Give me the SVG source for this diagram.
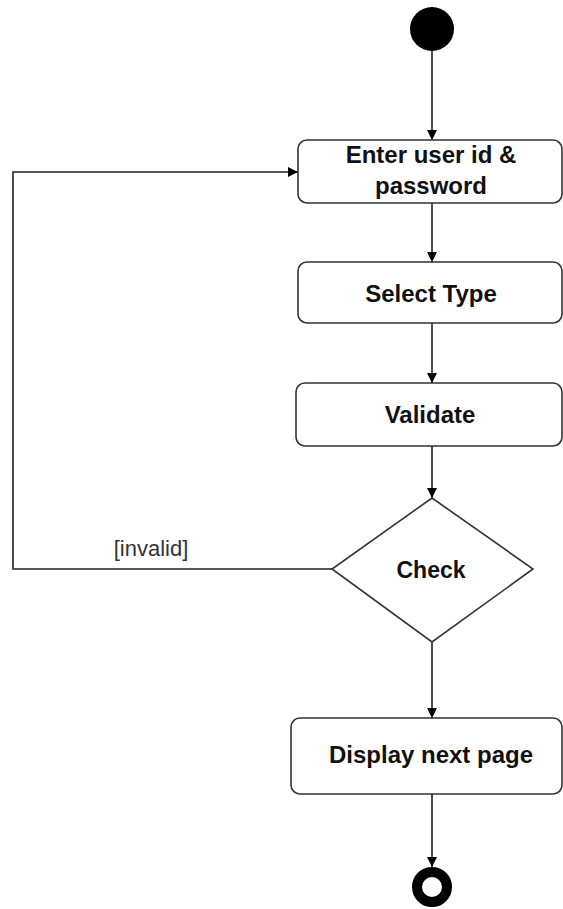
<svg xmlns="http://www.w3.org/2000/svg" width="563" height="909" viewBox="0 0 563 909">
<defs>
<marker id="arr" viewBox="0 0 10 10" refX="10" refY="5" markerWidth="10" markerHeight="10" markerUnits="userSpaceOnUse" orient="auto">
<path d="M0,0 L10,5 L0,10 Z" fill="#000"/>
</marker>
</defs>
<style>
.box{fill:#fff;stroke:#333;stroke-width:1.6}
.lbl{font-family:"Liberation Sans",Arial,sans-serif;font-weight:bold;font-size:24px;fill:#111;text-anchor:middle}
.edge{fill:none;stroke:#222;stroke-width:1.6}
.guard{font-family:"Liberation Sans",Arial,sans-serif;font-size:22px;fill:#333;text-anchor:middle}
</style>
<rect width="563" height="909" fill="#fff"/>
<g id="connectors">
<line class="edge" x1="432" y1="51" x2="432" y2="140" marker-end="url(#arr)"/>
<line class="edge" x1="432" y1="203" x2="432" y2="262" marker-end="url(#arr)"/>
<line class="edge" x1="432" y1="323" x2="432" y2="383" marker-end="url(#arr)"/>
<line class="edge" x1="432" y1="446" x2="432" y2="498" marker-end="url(#arr)"/>
<polyline class="edge" points="332,569 13,569 13,172 298,172" marker-end="url(#arr)"/>
<text class="guard" x="151" y="556">[invalid]</text>
<line class="edge" x1="432" y1="642" x2="432" y2="718" marker-end="url(#arr)"/>
<line class="edge" x1="432" y1="794" x2="432" y2="867" marker-end="url(#arr)"/>
</g>
<g id="start">
<circle cx="432" cy="29" r="22" fill="#000"/>
</g>
<g id="enter">
<rect class="box" x="298" y="140" width="264" height="63" rx="9"/>
<text class="lbl" x="431" y="163">Enter user id &amp;</text>
<text class="lbl" x="431" y="194">password</text>
</g>
<g id="select">
<rect class="box" x="298" y="262" width="264" height="61" rx="9"/>
<text class="lbl" x="431" y="302">Select Type</text>
</g>
<g id="validate">
<rect class="box" x="296" y="383" width="266" height="63" rx="9"/>
<text class="lbl" x="430" y="423">Validate</text>
</g>
<g id="check">
<polygon class="box" points="432,498 533,569 432,642 332,569"/>
<text class="lbl" x="431" y="578" style="font-size:23px">Check</text>
</g>
<g id="display">
<rect class="box" x="291" y="718" width="271" height="76" rx="9"/>
<text class="lbl" x="431" y="763">Display next page</text>
</g>
<g id="end">
<circle cx="432" cy="887" r="15" fill="#fff" stroke="#000" stroke-width="10"/>
</g>
</svg>
